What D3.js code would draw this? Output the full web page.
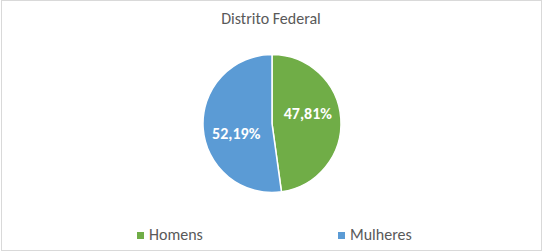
<!DOCTYPE html>
<meta charset="utf-8">
<style>
body { margin: 0; background: #fff; }
text { font-family: Carlito, "Open Sans", "Liberation Sans", sans-serif; }
</style>
<div id="chart"></div>
<script src="https://d3js.org/d3.v7.min.js"></script>
<script>
var title = "Distrito Federal";
var categories = ["Homens", "Mulheres"];
var values = [47.81, 52.19];
var colors = ["#70ad47", "#5b9bd5"];

var width = 543, height = 252;
var cx = 272, cy = 123.5, radius = 69;

var svg = d3.select("#chart").append("svg")
    .attr("width", width)
    .attr("height", height);

// chart area border
svg.append("rect")
    .attr("x", 1.5).attr("y", 0.5)
    .attr("width", 540).attr("height", 250)
    .attr("fill", "#fff")
    .attr("stroke", "#d9d9d9");

svg.append("text")
    .attr("x", 271)
    .attr("y", 24)
    .attr("text-anchor", "middle")
    .attr("fill", "#595959")
    .style("font-size", "16px")
    .text(title);

var data = categories.map(function(c, i) { return {name: c, value: values[i], color: colors[i]}; });

var pie = d3.pie().sort(null).value(function(d) { return d.value; });
var arc = d3.arc().innerRadius(0).outerRadius(radius);

var g = svg.append("g").attr("transform", "translate(" + cx + "," + cy + ")");

g.selectAll("path")
    .data(pie(data))
    .enter().append("path")
    .attr("d", arc)
    .attr("fill", function(d) { return d.data.color; })
    .attr("stroke", "#fff")
    .attr("stroke-width", 1.5);

var fmt = function(v) { return v.toFixed(2).replace(".", ",") + "%"; };

// Excel "best fit" labels sit a bit ahead of the slice middle
var labelR = radius * 0.54, labelShift = -0.21;
g.selectAll(".lbl")
    .data(pie(data))
    .enter().append("text")
    .attr("class", "lbl")
    .attr("transform", function(d) {
      var a = (d.startAngle + d.endAngle) / 2 + labelShift;
      return "translate(" + (Math.sin(a) * labelR) + "," + (-Math.cos(a) * labelR) + ")";
    })
    .attr("text-anchor", "middle")
    .attr("dy", "0.35em")
    .attr("fill", "#fff")
    .style("font-size", "16px")
    .style("font-weight", "bold")
    .text(function(d) { return fmt(d.data.value); });

// legend
var legendX = [137, 338];
var legend = svg.selectAll(".legend")
    .data(data)
    .enter().append("g")
    .attr("class", "legend")
    .attr("transform", function(d, i) { return "translate(" + legendX[i] + ",232)"; });

legend.append("rect")
    .attr("width", 7).attr("height", 7)
    .attr("fill", function(d) { return d.color; });

legend.append("text")
    .attr("x", 12)
    .attr("y", 8)
    .attr("fill", "#595959")
    .style("font-size", "16px")
    .text(function(d) { return d.name; });
</script>
